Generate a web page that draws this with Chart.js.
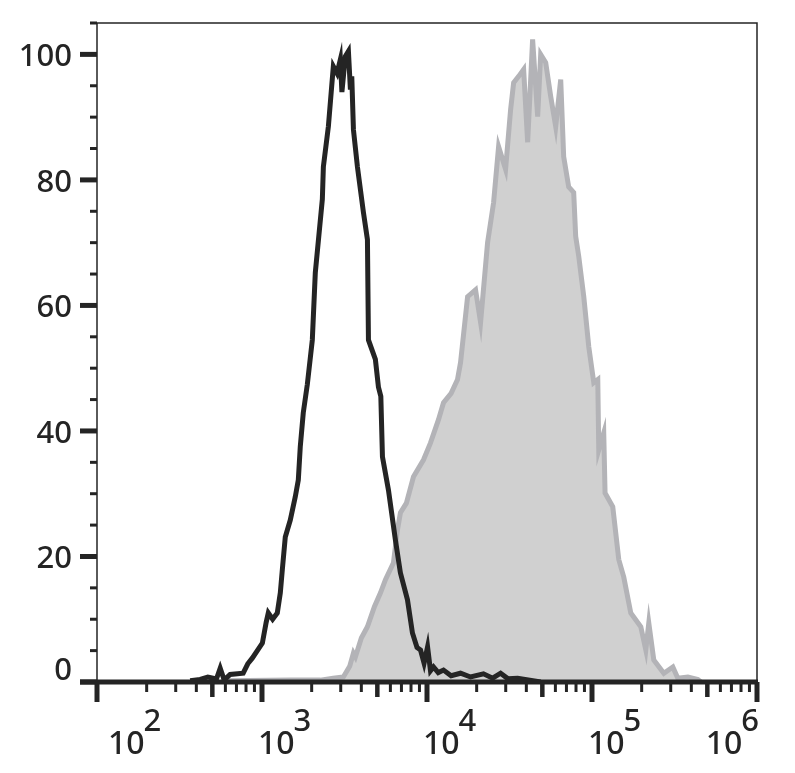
<!DOCTYPE html>
<html>
<head>
<meta charset="utf-8">
<script src="https://cdn.jsdelivr.net/npm/chart.js@4.4.1/dist/chart.umd.min.js"></script>
<style>
  html, body { margin: 0; padding: 0; background: #fff; }
  #wrap { width: 795px; height: 773px; }
</style>
</head>
<body>
<div id="wrap"><canvas id="hist" width="795" height="773"></canvas></div>
<script>
/* ── Data ────────────────────────────────────────────────── */
// unstained control (black outline)
const ctrlX = [367, 422, 470, 530, 558, 590, 641, 769, 820, 873, 1005, 1060, 1092, 1160, 1238, 1291,
    1328, 1384, 1484, 1591, 1660, 1706, 1779, 1882, 2018, 2104, 2321, 2355, 2525, 2706, 2850, 2985,
    3050, 3200, 3340, 3434, 3500, 3582, 3787, 4119, 4355, 4417, 4866, 5078, 5250, 5370, 5838, 6437,
    6899, 7615, 8162, 8700, 9137, 9600, 10080, 10500, 10950, 11700, 12590, 14000, 15970, 18360,
    22000, 25000, 27930, 31000, 35400, 42000, 48870];
const ctrlY = [0.2, 0.4, 0.8, 0.5, 2.2, 0.3, 1.2, 1.4, 2.9, 3.8, 6.2, 9.5, 11.0, 10.0, 11.0, 14.2,
    17.9, 23.1, 25.8, 29.5, 32.2, 37.5, 42.9, 47.4, 54.5, 65.2, 76.9, 82.1, 88.5, 98.1, 97.0, 99.2,
    94.0, 99.7, 100.5, 94.4, 96.5, 88.0, 82.1, 74.8, 70.5, 54.5, 51.4, 47.0, 45.5, 35.9, 30.6, 22.6,
    17.4, 13.1, 7.8, 5.5, 5.1, 3.0, 5.6, 1.8, 2.4, 1.5, 1.9, 1.0, 1.4, 0.8,
    1.3, 0.6, 1.4, 0.5, 0.6, 0.3, 0];

// stained sample (grey filled)
const stainX = [615, 1500, 2259, 2700, 3112, 3400, 3581, 3683, 4000, 4355, 4800, 5226, 5600, 6262,
    6600, 6903, 7500, 8279, 9525, 10500, 11740, 12590, 14000, 15310, 15970, 17620, 19690, 21120,
    23290, 25330, 27160, 29940, 32120, 33500, 35920, 38520, 40740, 43660, 46850, 48870, 52400,
    56190, 60260, 64620, 67350, 72230, 77450, 79640, 83130, 89140, 95600, 102500, 108400, 109900,
    117800, 120000, 133600, 145300, 155800, 171800, 197600, 211900, 220900, 236900, 272500,
    309000, 331300, 381000, 438300, 457000];
const stainY = [0.2, 0.3, 0.3, 0.6, 0.8, 2.5, 4.6, 4.0, 7.0, 8.8, 12.0, 14.2, 16.3, 19.0,
    24.0, 27.0, 28.5, 32.7, 35.4, 38.1, 41.8, 44.5, 46.0, 48.2, 50.9, 61.4, 62.5, 57.3,
    70.0, 76.4, 85.3, 81.7, 91.2, 95.5, 96.5, 97.6, 86.0, 102.4, 90.1, 100.0, 98.7,
    93.3, 88.5, 96.0, 83.7, 78.9, 78.0, 71.0, 67.8, 61.4, 53.4, 47.7, 48.2, 37.0,
    39.7, 30.1, 27.9, 19.5, 16.7, 11.0, 8.8, 5.1, 9.4, 3.5, 1.4,
    2.4, 0.6, 0.8, 0.4, 0];

// axes
const xDecades = [100, 1000, 10000, 100000, 1000000];
const xExponents = ['2', '3', '4', '5', '6'];
const yMajor = [0, 20, 40, 60, 80, 100];
const yMax = 105;

const INK = '#242424';
const FONT = '"Noto Sans", "DejaVu Sans", sans-serif';

function toPoints(xs, ys) {
    return xs.map((x, i) => ({ x, y: ys[i] }));
}

/* ── Frame, ticks and labels ─────────────────────────────── */
const frame = {
    id: 'frame',
    afterDatasetsDraw(chart) {
        const { ctx, chartArea: a, scales: { x, y } } = chart;
        ctx.save();
        ctx.strokeStyle = INK;
        ctx.fillStyle = INK;

        // thin box: left, top, right
        ctx.lineWidth = 1.5;
        ctx.beginPath();
        ctx.moveTo(a.left, a.bottom);
        ctx.lineTo(a.left, a.top);
        ctx.lineTo(a.right, a.top);
        ctx.lineTo(a.right, a.bottom);
        ctx.stroke();

        // y ticks every 5, outward
        for (let v = 0; v <= yMax; v += 5) {
            const py = y.getPixelForValue(v);
            const major = v % 20 === 0;
            ctx.lineWidth = major ? 5 : 3;
            ctx.beginPath();
            ctx.moveTo(a.left - (major ? 17 : 7), py);
            ctx.lineTo(a.left, py);
            ctx.stroke();
        }

        // thick x axis
        ctx.lineWidth = 5;
        ctx.beginPath();
        ctx.moveTo(a.left - 17, a.bottom);
        ctx.lineTo(a.right + 1, a.bottom);
        ctx.stroke();

        // x ticks: decades + minor 2..9
        xDecades.forEach((d, i) => {
            const px = x.getPixelForValue(d);
            ctx.lineWidth = 5;
            ctx.beginPath();
            ctx.moveTo(px, a.bottom);
            ctx.lineTo(px, a.bottom + 20);
            ctx.stroke();
            if (i === xDecades.length - 1) return;
            for (let m = 2; m <= 9; m++) {
                const mx = x.getPixelForValue(d * m);
                ctx.lineWidth = m === 5 ? 4.5 : 3;
                ctx.beginPath();
                ctx.moveTo(mx, a.bottom);
                ctx.lineTo(mx, a.bottom + (m === 5 ? 15 : 10));
                ctx.stroke();
            }
        });

        // y labels
        ctx.font = '500 31px ' + FONT;
        ctx.textAlign = 'right';
        ctx.textBaseline = 'middle';
        yMajor.forEach(v => {
            const py = y.getPixelForValue(v) + (v === 0 ? -11 : 3);
            ctx.fillText(String(v), 72, py);
        });

        // x labels: 10 with raised exponent
        ctx.textAlign = 'left';
        ctx.textBaseline = 'alphabetic';
        const baseFont = '500 32px ' + FONT;
        const expFont = '500 31px ' + FONT;
        xDecades.forEach((d, i) => {
            const px = x.getPixelForValue(d);
            ctx.font = baseFont;
            const wBase = ctx.measureText('10').width;
            ctx.font = expFont;
            const wExp = ctx.measureText(xExponents[i]).width;
            let left = Math.max(px - 4, 108);
            left = Math.min(left, a.right + 3 - wBase - wExp);
            ctx.font = baseFont;
            ctx.fillText('10', left, 754);
            ctx.font = expFont;
            ctx.fillText(xExponents[i], left + wBase - 1, 731);
        });

        ctx.restore();
    },
};

new Chart(document.getElementById('hist').getContext('2d'), {
    type: 'line',
    data: {
        datasets: [
            {
                label: 'control',
                data: toPoints(ctrlX, ctrlY),
                borderColor: INK,
                borderWidth: 5,
                borderJoinStyle: 'miter',
                pointRadius: 0,
                tension: 0,
                fill: false,
                order: 1,
            },
            {
                label: 'stained',
                data: toPoints(stainX, stainY),
                borderColor: '#b3b3b7',
                backgroundColor: '#d0d0d0',
                borderWidth: 5,
                borderJoinStyle: 'miter',
                pointRadius: 0,
                tension: 0,
                fill: 'origin',
                order: 2,
            },
        ],
    },
    options: {
        responsive: false,
        animation: false,
        events: [],
        layout: { padding: { left: 97, right: 38, top: 23, bottom: 91 } },
        plugins: { legend: { display: false }, tooltip: { enabled: false } },
        scales: {
            x: { type: 'logarithmic', min: 100, max: 1000000, display: false },
            y: { type: 'linear', min: 0, max: yMax, display: false },
        },
    },
    plugins: [frame],
});
</script>
</body>
</html>
